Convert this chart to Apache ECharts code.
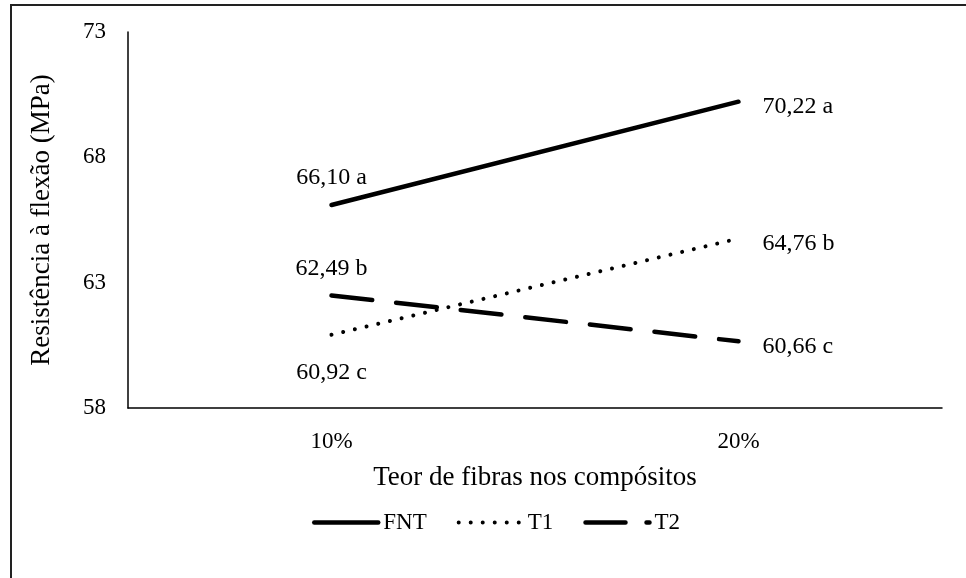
<!DOCTYPE html>
<html>
<head>
<meta charset="utf-8">
<script src="https://cdn.jsdelivr.net/npm/echarts@6/dist/echarts.min.js"></script>
<style>html,body{margin:0;padding:0;background:#fff}#c{width:966px;height:578px}</style>
</head>
<body>
<div id="c"></div>
<script>
var categories = ['10%', '20%'];
var seriesNames = ['FNT', 'T1', 'T2'];
var fntValues = [66.10, 70.22];
var t1Values = [60.92, 64.76];
var t2Values = [62.49, 60.66];
var fntLetters = ['a', 'a'];
var t1Letters = ['c', 'b'];
var t2Letters = ['b', 'c'];
var yTicks = { min: 58, max: 73, interval: 5 };

var FONT = '"Liberation Serif", "Times New Roman", serif';
var chart = echarts.init(document.getElementById('c'));

function fmt(v, l) { return v.toFixed(2).replace('.', ',') + ' ' + l; }

function makeData(values, letters, firstPos) {
  return values.map(function (v, i) {
    var pos = i === 0 ? firstPos : 'right';
    var dist = i === 0 ? (firstPos === 'top' ? 15 : 26) : 24;
    var off = pos === 'right' ? [0, 5] : [0, 0];
    return {
      value: v,
      label: { show: true, position: pos, distance: dist, offset: off, formatter: fmt(v, letters[i]) }
    };
  });
}

var labelStyle = { color: '#000', fontFamily: FONT, fontSize: 24 };

var styles = {
  FNT: { color: '#000', width: 4.5, cap: 'round', type: 'solid' },
  T1: { color: '#000', width: 4, type: [0.01, 12], cap: 'round' },
  T2: { color: '#000', width: 4.5, type: [41, 24], cap: 'round' }
};
var legendStyles = {
  FNT: styles.FNT,
  T1: styles.T1,
  T2: { color: '#000', width: 4.5, type: [40, 21], cap: 'round' }
};

chart.setOption({
  animation: false,
  backgroundColor: '#fff',
  graphic: [{
    type: 'rect', shape: { x: 11, y: 5, width: 1200, height: 1200 },
    style: { fill: 'none', stroke: '#222', lineWidth: 2 }, silent: true, z: 100
  }],
  grid: { left: 128, right: 24, top: 32, bottom: 170 },
  legend: {
    top: 506, left: 307,
    itemWidth: 64, itemHeight: 14, itemGap: 30,
    itemStyle: { opacity: 0 },
    textStyle: { color: '#000', fontFamily: FONT, fontSize: 23 },
    data: seriesNames.map(function (n) {
      return { name: n, lineStyle: legendStyles[n] };
    })
  },
  xAxis: {
    type: 'category', data: categories, boundaryGap: true,
    name: 'Teor de fibras nos compósitos', nameLocation: 'middle', nameGap: 56,
    nameTextStyle: { color: '#000', fontFamily: FONT, fontSize: 27 },
    axisLine: { lineStyle: { color: '#000', width: 1.5 } },
    axisTick: { show: false },
    axisLabel: { color: '#000', fontFamily: FONT, fontSize: 23, margin: 22 }
  },
  yAxis: {
    type: 'value', min: yTicks.min, max: yTicks.max, interval: yTicks.interval,
    name: 'Resistência à flexão (MPa)', nameLocation: 'middle', nameGap: 73,
    nameTextStyle: { color: '#000', fontFamily: FONT, fontSize: 27 },
    axisLine: { show: true, lineStyle: { color: '#000', width: 1.5 } },
    axisTick: { show: false },
    splitLine: { show: false },
    axisLabel: { color: '#000', fontFamily: FONT, fontSize: 23, margin: 22 }
  },
  series: [
    {
      name: seriesNames[0], type: 'line', data: makeData(fntValues, fntLetters, 'top'),
      symbol: 'circle', symbolSize: 0, showSymbol: true,
      lineStyle: styles.FNT, itemStyle: { color: '#000' }, label: labelStyle
    },
    {
      name: seriesNames[1], type: 'line', data: makeData(t1Values, t1Letters, 'bottom'),
      symbol: 'circle', symbolSize: 0, showSymbol: true,
      lineStyle: styles.T1, itemStyle: { color: '#000' }, label: labelStyle
    },
    {
      name: seriesNames[2], type: 'line', data: makeData(t2Values, t2Letters, 'top'),
      symbol: 'circle', symbolSize: 0, showSymbol: true,
      lineStyle: styles.T2, itemStyle: { color: '#000' }, label: labelStyle
    }
  ]
});
</script>
</body>
</html>
